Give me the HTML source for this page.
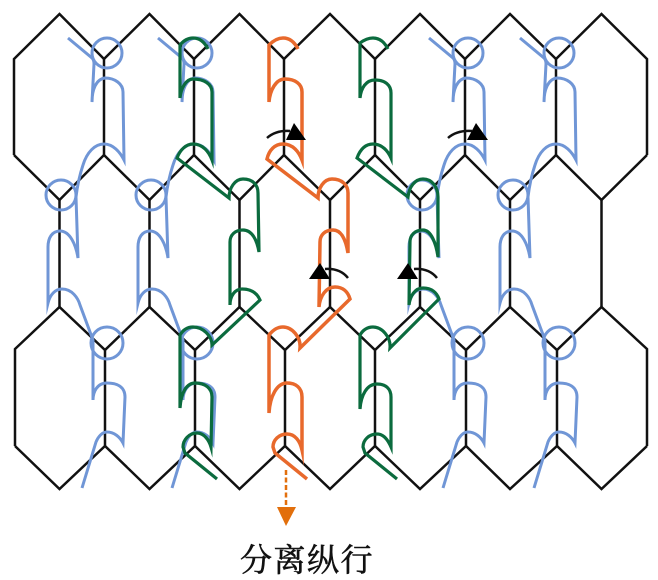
<!DOCTYPE html>
<html><head><meta charset="utf-8">
<style>
html,body{margin:0;padding:0;background:#fff;width:658px;height:580px;overflow:hidden}
svg{display:block;filter:blur(0.35px)}
text{font-family:"Liberation Serif","Noto Serif CJK SC",serif}
</style></head>
<body>
<svg width="658" height="580" viewBox="0 0 658 580" xmlns="http://www.w3.org/2000/svg">
<defs>
<g id="blue" fill="none" stroke="#7096d6" stroke-width="3" stroke-miterlimit="10">
<path d="M68,38 L92,58 Q94,60 94,64 L92,102 C92,90 96,79 105,78 C115,78 123,84 123,92 L124,160 C120,152 113,144 104,144 C95,144 87,152 83,165 Q78,180 76,197 L78,258 C76,245 70,231 60,231 C52,231 48,238 48,247 L48,303 C50,295 55,289 62,289 C72,289 78,298 80,305 L93,340 L93,400 C93,392 97,383 107,383 C116,383 125,386 125,397 L123,443 C120,437 114,432 107,432 C102,432 98,437 96,442 L82,488"/>
<circle cx="107" cy="53" r="15"/>
<circle cx="61" cy="195" r="15"/>
<circle cx="107" cy="343" r="16"/>
</g>
</defs>

<g fill="none" stroke="#111" stroke-width="2.500" stroke-linejoin="miter">
<path d="M14,155 L14,59 L59.500,14 L104,59 L149.500,14 L194,59 L239.500,14 L284,59 L330,14 L375,59 L420,14 L465,59 L510,14 L556,59 L601.500,14 L647,59 L647,155"/>
<path d="M14,155 L59.500,200 L104,155 L149.500,200 L194,155 L239.500,200 L284,155 L330,200 L375,155 L420,200 L465,155 L510,200 L556,155 L601.500,200 L647,155"/>
<path d="M15,446 L15,349 L59.500,307 L105,350 L149.500,307 L195,350 L239.500,307 L285,350 L330,307 L375,350 L420,307 L466,350 L510,307 L557,350 L601.500,307 L647,349 L647,446"/>
<path d="M15,446 L59.500,489 L105,446 L149.500,489 L195,446 L239.500,489 L285,446 L330,489 L375,446 L420,489 L466,446 L510,489 L557,446 L601.500,489 L647,446"/>
<path d="M104,59V155M194,59V155M284,59V155M375,59V155M465,59V155M556,59V155"/>
<path d="M59.500,200V307M149.500,200V307M239.500,200V307M330,200V307M420,200V307M510,200V307M601.500,200V307"/>
<path d="M105,350V446M195,350V446M285,350V446M375,350V446M466,350V446M557,350V446"/>
</g>

<use href="#blue"/>
<use href="#blue" transform="translate(90,0)"/>
<use href="#blue" transform="translate(361,0)"/>
<use href="#blue" transform="translate(452,0)"/>

<g fill="none" stroke="#0b6b3e" stroke-width="3.200" stroke-miterlimit="10">
<path d="M208,49 C205,43 200,38 193,38 C188,38 184,40 180,45 L180,98 C181,88 186,79 193,79 C204,79 212,84 212,92 L212,160 C209,152 203,144 193,144 C186,144 180,150 177,158 L229,198 C229,188 235,179 243,179 C253,179 258,185 258,193 L259,252 C257,240 252,230 243,230 C235,230 230,235 230,242 L230,305 C230,296 235,289 242,289 C251,289 257,293 260,300 L212,345 C212,336 203,327 193,327 C187,327 183,330 180,335 L180,408 C181,392 187,383 195,383 C205,383 212,388 212,397 L211,447 C209,440 204,433 197,433 C189,433 183,440 183,447 L185,453 L217,479"/>
<path d="M388,49 C385,43 380,38 373,38 C368,38 364,40 360,43 L360,98 C361,88 366,80 375,80 C385,80 391,85 391,93 L391,158 C388,151 382,144 373,144 C365,144 360,150 357,158 L408,197 C409,187 415,179 423,179 C432,179 438,187 438,197 L438,257 C436,243 431,230 423,230 C415,230 410,235 410,242 L409,305 C410,296 415,288 423,288 C432,288 437,293 439,299 L390,348 C391,337 382,327 373,327 C367,327 363,330 360,335 L360,409 C361,395 367,384 377,384 C386,384 391,389 391,397 L391,447 C388,440 384,434 377,434 C369,434 363,440 363,447 L365,453 L397,479"/>
</g>

<g fill="none" stroke="#e8692c" stroke-width="3.500" stroke-miterlimit="10">
<path d="M298,49 C295,43 290,38 283,38 C278,38 274,40 269,45 L269,102 C270,90 276,79 285,79 C295,79 302,84 302,92 L302,160 C299,152 293,144 283,144 C275,144 269,150 267,159 L318,198 C318,188 324,179 332,179 C342,179 348,185 348,193 L348,253 C346,241 342,230 333,230 C325,230 320,235 320,242 L319,307 C320,296 326,287 335,287 C343,287 348,292 350,299 L300,348 C301,337 292,327 283,327 C277,327 273,330 269,335 L269,413 C270,396 277,383 287,383 C296,383 302,388 302,397 L302,450 C300,441 295,434 287,434 C279,434 273,440 273,447 L275,453 L307,479"/>
</g>

<g fill="none" stroke="#111" stroke-width="2.500">
<path d="M267,138 Q276,130 290,131"/>
<path d="M448,138 Q457,130 472,131"/>
<path d="M348,278 Q340,268 325,269"/>
<path d="M437,278 Q429,268 414,269"/>
</g>
<g fill="#000">
<polygon points="294,123 286,140 306,140"/>
<polygon points="476,123 467,140 488,140"/>
<polygon points="320,263 309,279 330,279"/>
<polygon points="408,263 397,279 418,279"/>
</g>

<line x1="286" y1="470" x2="286" y2="507" stroke="#e26f0c" stroke-width="2.500" stroke-dasharray="5 2.500"/>
<polygon points="277,507 296,507 286,526" fill="#e26f0c"/>

<text x="240" y="571" font-size="32" letter-spacing="1.500" fill="#111" stroke="#111" stroke-width="0.6">分离纵行</text>
</svg>
</body></html>
